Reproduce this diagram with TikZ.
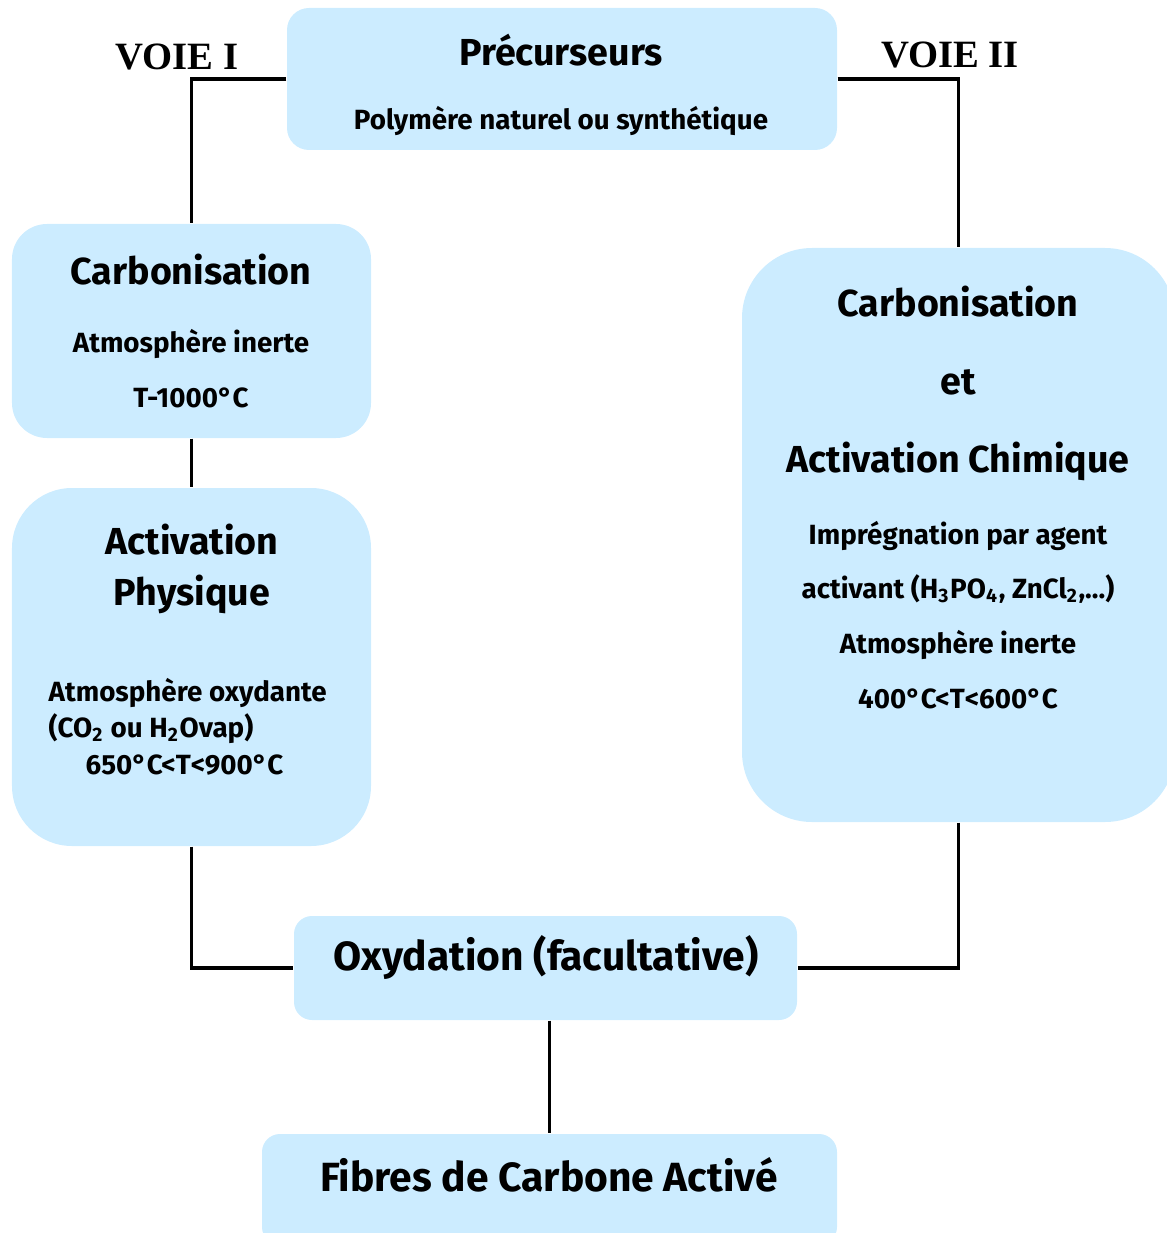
\documentclass[tikz,border=0pt]{standalone}
\usepackage{fontspec}
\setmainfont{Fira Sans}
\newfontfamily\voiefont{Liberation Serif}
\usetikzlibrary{positioning}
\definecolor{boxblue}{RGB}{204,236,255}
\tikzset{
mybox/.style={
  rectangle,
  fill=boxblue,
  inner sep=0pt,
  }
}
\tikzset{
myline/.style={
  line width=1.1pt,
  }
}
\tikzset{
bigtext/.style={font=\bfseries\fontsize{10.7}{22.2}\selectfont, align=center},
hugetext/.style={font=\bfseries\fontsize{11.6}{14}\selectfont, align=center},
smalltext/.style={font=\bfseries\fontsize{7.9}{15.6}\selectfont, align=center},
voietext/.style={font=\voiefont\bfseries\fontsize{11}{13}\selectfont},
}

\begin{document}
\begin{tikzpicture}
    \useasboundingbox (0,0) rectangle (11.66,-12.33);

    % boxes
    \node[mybox, minimum width=5.50cm, minimum height=1.42cm, rounded corners=0.22cm] (prec) at (5.62,-0.79) {};
    \node[mybox, minimum width=3.59cm, minimum height=2.14cm, rounded corners=0.35cm] (carb) at (1.915,-3.31) {};
    \node[mybox, minimum width=3.59cm, minimum height=3.58cm, rounded corners=0.6cm] (phys) at (1.915,-6.67) {};
    \node[mybox, minimum width=4.33cm, minimum height=5.74cm, rounded corners=0.7cm] (chim) at (9.585,-5.35) {};
    \node[mybox, minimum width=5.03cm, minimum height=1.04cm, rounded corners=0.18cm] (oxy) at (5.455,-9.68) {};
    \node[mybox, minimum width=5.75cm, minimum height=1.11cm, rounded corners=0.18cm] (fib) at (5.495,-11.895) {};

    % voie labels
    \node[voietext] (voie1) at (1.77,-0.57) {VOIE I};
    \node[voietext] (voie2) at (9.50,-0.55) {VOIE II};

    % precurseurs
    \node[bigtext] (prec_title) at (5.61,-0.50) {Précurseurs};
    \node[smalltext] (prec_txt) at (5.61,-1.21) {Polymère naturel ou synthétique};

    % voie I
    \node[bigtext] (carb_title) at (1.91,-2.70) {Carbonisation};
    \node[smalltext] (carb_txt) at (1.91,-3.685) {Atmosphère inerte\\T-1000°C};
    \node[bigtext, font=\bfseries\fontsize{10.7}{14.5}\selectfont] (phys_title) at (1.92,-5.685) {Activation\\Physique};
    \node[smalltext, font=\bfseries\fontsize{7.9}{10.4}\selectfont, align=left, anchor=west, inner sep=0pt] (phys_txt) at (0.48,-7.265)
        {Atmosphère oxydante\\(CO\textsubscript{2} ou H\textsubscript{2}Ovap)\\\hspace{0.37cm}650°C<T<900°C};

    % voie II
    \node[bigtext] (chim_title) at (9.58,-3.83) {Carbonisation\\et\\Activation Chimique};
    \node[smalltext] (chim_txt) at (9.58,-6.15)
        {Imprégnation par agent\\activant (H\textsubscript{3}PO\textsubscript{4}, ZnCl\textsubscript{2},…)\\Atmosphère inerte\\400°C<T<600°C};

    % end of both ways
    \node[hugetext] (oxy_title) at (5.46,-9.58) {Oxydation (facultative)};
    \node[hugetext] (fib_title) at (5.49,-11.75) {Fibres de Carbone Activé};

    % voie I edges
    \draw[myline] (prec.west) -| (carb.north);
    \draw[myline] (carb.south) -- (phys.north);
    \draw[myline] (phys.south) |- (oxy.west);

    % voie II edges
    \draw[myline] (prec.east) -| (chim.north);
    \draw[myline] (chim.south) |- (oxy.east);

    % final edge
    \draw[myline] (fib.north |- oxy.south) -- (fib.north);
\end{tikzpicture}
\end{document}
